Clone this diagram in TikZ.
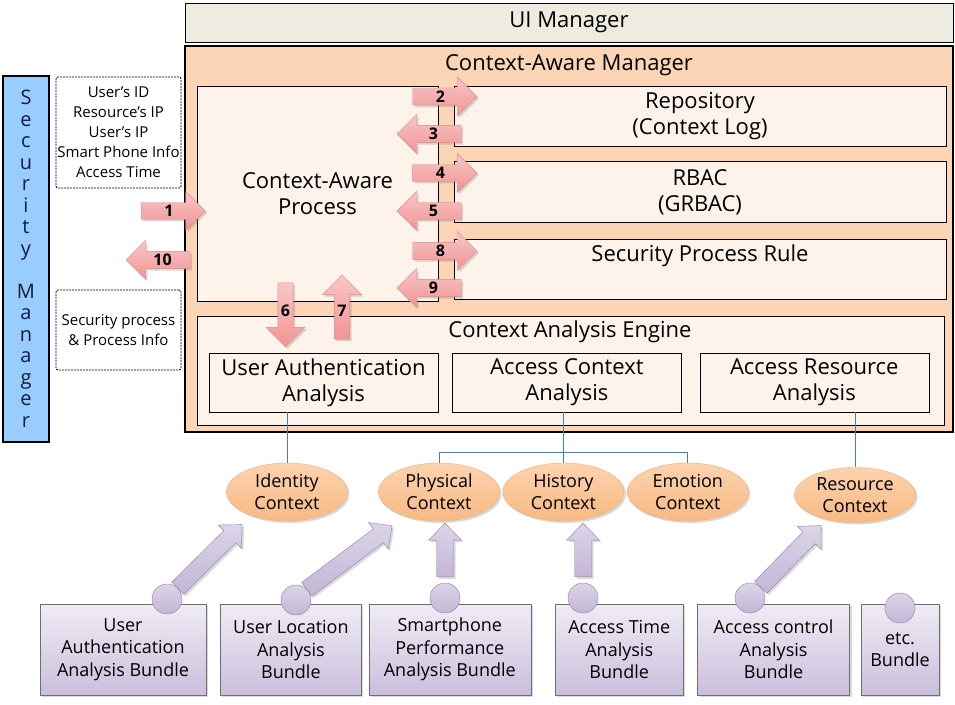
\documentclass[tikz,border=0pt]{standalone}
\usepackage{fontspec}
\setmainfont{Open Sans}
\usetikzlibrary{positioning, calc, shapes.geometric, shapes.arrows, shadows, backgrounds}

\definecolor{uifill}{HTML}{EEECE1}
\definecolor{camfill}{HTML}{FBD5B5}
\definecolor{boxfill}{HTML}{FDF3EA}
\definecolor{smfill}{HTML}{99CCFF}
\definecolor{smtext}{HTML}{141E3C}
\definecolor{ctxtop}{HTML}{FCD3AE}
\definecolor{ctxbot}{HTML}{F8B983}
\definecolor{ctxline}{HTML}{F0AE78}
\definecolor{buntop}{HTML}{F0ECF5}
\definecolor{bunbot}{HTML}{CABEDC}
\definecolor{bunline}{HTML}{6E6E6E}
\definecolor{purtop}{HTML}{DCD4E8}
\definecolor{purbot}{HTML}{C3B6D6}
\definecolor{purline}{HTML}{8E80AA}
\definecolor{pinktop}{HTML}{F9C6C6}
\definecolor{pinkbot}{HTML}{F09494}
\definecolor{pinkline}{HTML}{E08888}
\definecolor{linkblue}{HTML}{4A7EBB}

\newcommand{\cabig}{\fontsize{22}{26}\selectfont}
\newcommand{\camid}{\fontsize{18}{22.5}\selectfont}
\newcommand{\casmall}{\fontsize{15}{20}\selectfont}
\newcommand{\canum}{\fontsize{16}{18}\selectfont\bfseries}

% fat arrow from #2 to #3
\newcommand{\blockarrow}[3][]{%
  \path[barrow,#1] let \p1=(#2), \p2=(#3),
      \n1={atan2(\y2-\y1,\x2-\x1)}, \n2={veclen(\x2-\x1,\y2-\y1)-17} in
    ($(\p1)+(\n1+90:8.5)$) -- ($(\p1)+(\n1:\n2)+(\n1+90:8.5)$)
    -- ($(\p1)+(\n1:\n2)+(\n1+90:16.5)$) -- (\p2)
    -- ($(\p1)+(\n1:\n2)+(\n1-90:16.5)$) -- ($(\p1)+(\n1:\n2)+(\n1-90:8.5)$)
    -- ($(\p1)+(\n1-90:8.5)$) -- cycle;}

\begin{document}
\begin{tikzpicture}[
    x=1pt, y=1pt,
    node distance=14pt,
    softshadow/.style={drop shadow={opacity=0.3, shadow xshift=2pt, shadow yshift=-2pt}},
    mgr/.style={rectangle, draw, font=\cabig},
    inbox/.style={rectangle, draw, fill=boxfill, align=center, font=\cabig},
    title/.style={font=\cabig, inner sep=0pt},
    infobox/.style={rectangle, draw, line width=0.8pt, dash pattern=on 2pt off 1pt,
        rounded corners=2pt, fill=white, align=center, font=\casmall,
        minimum width=125pt, inner sep=1pt},
    pinkarr/.style={single arrow, single arrow head extend=9pt, minimum width=39pt,
        minimum height=64pt, inner sep=1pt, draw=pinkline, top color=pinktop,
        bottom color=pinkbot, font=\canum, softshadow},
    ctx/.style={ellipse, inner sep=0pt, minimum width=121pt, minimum height=58pt,
        draw=ctxline, top color=ctxtop, bottom color=ctxbot, align=center,
        font=\camid, softshadow},
    bundle/.style={rectangle, draw=bunline, top color=buntop, bottom color=bunbot,
        minimum height=91pt, align=center, font=\camid, softshadow},
    knob/.style={circle, minimum size=30pt, inner sep=0pt, draw=purline,
        top color=purtop, bottom color=purbot},
    barrow/.style={draw=purline, top color=purtop, bottom color=purbot, softshadow},
    link/.style={draw=linkblue, line width=0.8pt}
]
\useasboundingbox (0,0) rectangle (955,704);

% managers
\node[mgr, fill=uifill, minimum width=768pt, minimum height=39pt] (ui) at (569,681.5) {UI Manager};
\node[mgr, fill=camfill, line width=2pt, minimum width=768pt, minimum height=386pt] (cam) at (569,465) {};
\node[title] (camt) at (569,639) {Context-Aware Manager};
\node[mgr, fill=smfill, line width=1.6pt, minimum width=46pt, minimum height=366pt,
    align=center, text=smtext, font=\fontsize{20}{21.5}\selectfont] (sm) at (26,445)
    {S\\e\\c\\u\\r\\i\\t\\y\\[21.5pt]M\\a\\n\\a\\g\\e\\r};

% context info
\node[infobox, minimum height=111pt] (info) at (118.5,571.5)
    {User’s ID\\Resource’s IP\\User’s IP\\Smart Phone Info\\Access Time};
\node[infobox, minimum height=80pt] (proc) at (118.5,374)
    {Security process\\\& Process Info};

% process and stores
\node[inbox, minimum width=241pt, minimum height=215pt] (cap) at (317.5,510.5) {Context-Aware\\Process};
\node[inbox, minimum width=492pt, minimum height=60pt] (repo) at (700,588) {Repository\\(Context Log)};
\node[inbox, minimum width=492pt, minimum height=61pt, below=15pt of repo] (rbac) {RBAC\\(GRBAC)};
\node[inbox, minimum width=492pt, minimum height=60pt, below=16pt of rbac] (spr) {};
\node[title] (sprt) at (700,448) {Security Process Rule};

% analysis engine
\node[inbox, minimum width=747pt, minimum height=109pt] (cae) at (570.5,333.5) {};
\node[title] (caet) at (570,372) {Context Analysis Engine};
\node[inbox, minimum width=229pt, minimum height=59pt] (uaa) at (323.5,321.5) {User Authentication\\Analysis};
\node[inbox, minimum width=229pt, minimum height=59pt, right=14pt of uaa] (aca) {Access Context\\Analysis};
\node[inbox, minimum width=229pt, minimum height=59pt, right=18pt of aca] (ara) {Access Resource\\Analysis};

% numbered flows
\node[pinkarr] (f1) at (169,493) {1};
\node[pinkarr, shape border rotate=180] (f10) at (162.5,444) {10};
\node[pinkarr] (f2) at (440.5,607.5) {2};
\node[pinkarr, shape border rotate=180] (f3) at (433.5,570) {3};
\node[pinkarr] (f4) at (440.5,531) {4};
\node[pinkarr, shape border rotate=180] (f5) at (433.5,493) {5};
\node[pinkarr] (f8) at (440.5,453) {8};
\node[pinkarr, shape border rotate=180] (f9) at (433.5,416) {9};
\node[pinkarr, shape border rotate=270] (f6) at (285.5,393) {6};
\node[pinkarr, shape border rotate=90] (f7) at (342,393) {7};

% contexts
\node[ctx] (idc) at (287,212) {Identity\\Context};
\node[ctx] (phc) at (439,212) {Physical\\Context};
\node[ctx, right=3pt of phc] (hic) {History\\Context};
\node[ctx, right=3pt of hic] (emc) {Emotion\\Context};
\node[ctx, minimum height=55pt] (rsc) at (855,209) {Resource\\Context};

\draw[link] (idc.north) -- (idc.north |- uaa.south);
\draw[link] (hic.north) -- (hic.north |- aca.south);
\draw[link] (phc.north) -- ++(0,10) -| (emc.north);
\draw[link] (rsc.north) -- (rsc.north |- ara.south);

% bundles
\node[bundle, minimum width=166pt] (b1) at (123,54.5) {User\\Authentication\\Analysis Bundle};
\node[bundle, minimum width=141pt, right=14pt of b1] (b2) {User Location\\Analysis\\Bundle};
\node[bundle, minimum width=162pt, right=7pt of b2] (b3) {Smartphone\\Performance\\Analysis Bundle};
\node[bundle, minimum width=128pt, right=24pt of b3] (b4) {Access Time\\Analysis\\Bundle};
\node[bundle, minimum width=152pt, right=14pt of b4] (b5) {Access control\\Analysis\\Bundle};
\node[bundle, minimum width=78pt, right=11pt of b5] (b6) {etc.\\Bundle};

\node[knob] (k1) at (167,105) {};
\node[knob] (k2) at (296,104) {};
\node[knob] (k3) at (445,106) {};
\node[knob] (k4) at (583,106) {};
\node[knob] (k5) at (750,106) {};
\node[knob] (k6) at (900,96) {};

\begin{scope}[on background layer]
\blockarrow{k1.north east}{$(idc.south west)+(-2,-12)$}
\blockarrow{k2.north east}{$(phc.south west)+(-4,-13)$}
\blockarrow{$(k3.north)+(0,6)$}{$(k3.north |- phc.south)+(0,-2)$}
\blockarrow{$(k4.north)+(0,6)$}{$(k4.north |- hic.south)+(0,-2)$}
\blockarrow{k5.north east}{$(rsc.south west)+(9,-11)$}
\end{scope}
\end{tikzpicture}
\end{document}
